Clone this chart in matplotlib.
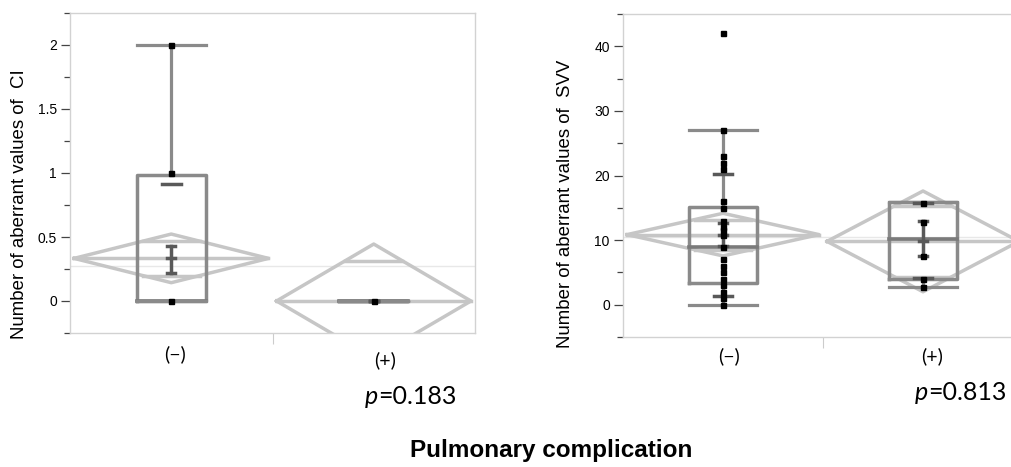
import matplotlib.pyplot as plt
from matplotlib.ticker import MultipleLocator
import numpy as np

W, H = 1011, 467

groups = ['(−)', '(+)']
xpos = [0.5, 1.5]

# CI panel, values
ci_points = [[2, 1, 0], [0]]
ci_mean = [0.333, 0.0]
ci_halfci = [0.19, 0.445]      # half height of means diamond
ci_se_lo = [0.215, 0.0]
ci_se_hi = [0.43, 0.0]
ci_sd = [[0.915], []]
ci_q1 = [0, 0]
ci_med = [0, 0]
ci_q3 = [0.985, 0]
ci_wlo = [0, 0]
ci_whi = [2, 0]
ci_grand = 0.27
ci_p = '0.183'

# SVV panel
svv_points = [[42, 27, 23, 22, 21, 16, 15, 13, 12, 11.5, 10.8, 9, 7, 6, 5, 4, 3, 2, 1, 0],
              [15.8, 12.8, 7.6, 4.0, 2.7]]
svv_mean = [10.85, 9.8]
svv_halfci = [3.3, 7.8]
svv_se_lo = [9.1, 7.5]
svv_se_hi = [12.6, 12.9]
svv_sd = [[20.3, 1.4], [15.7, 4.1]]
svv_q1 = [3.4, 4.0]
svv_med = [9.0, 10.2]
svv_q3 = [15.2, 15.9]
svv_wlo = [0, 2.8]
svv_whi = [27, 15.9]
svv_grand = 10.45
svv_p = '0.813'

DIAM = '#c6c6c6'
BOX = '#8a8a8a'
DARK = '#595959'
FRAME = '#d2d2d2'


def px_axes(fig, x0, y0, x1, y1):
    return fig.add_axes([x0 / W, 1 - y1 / H, (x1 - x0) / W, (y1 - y0) / H])


def oneway(ax, pts, mean, halfci, se_lo, se_hi, sd, q1, med, q3, wlo, whi, grand):
    ax.axhline(grand, color='#e8e8e8', lw=1, zorder=1)
    dw = 0.48
    bw = 0.17
    for i, x in enumerate(xpos):
        m, c = mean[i], halfci[i]
        # means diamond + overlap marks
        ax.plot([x - dw, x, x + dw, x, x - dw], [m, m + c, m, m - c, m], color=DIAM, lw=2.5, zorder=2)
        ax.plot([x - dw, x + dw], [m, m], color=DIAM, lw=2.5, zorder=2)
        o = c / np.sqrt(2)
        ow = dw * (1 - 1 / np.sqrt(2))
        for yy in (m + o, m - o):
            ax.plot([x - ow, x + ow], [yy, yy], color=DIAM, lw=2.5, zorder=2)
        # box plot
        ax.plot([x - bw, x + bw, x + bw, x - bw, x - bw], [q1[i], q1[i], q3[i], q3[i], q1[i]],
                color=BOX, lw=2.5, zorder=3, solid_joinstyle='round')
        ax.plot([x - bw, x + bw], [med[i], med[i]], color='#7a7a7a', lw=2.6, zorder=3)
        ax.plot([x, x], [q3[i], whi[i]], color=BOX, lw=2.3, zorder=3)
        ax.plot([x, x], [q1[i], wlo[i]], color=BOX, lw=2.3, zorder=3)
        for yy in (wlo[i], whi[i]):
            ax.plot([x - bw, x + bw], [yy, yy], color=BOX, lw=2.3, zorder=3)
        # std dev lines
        for yy in sd[i]:
            ax.plot([x - 0.047, x + 0.047], [yy, yy], color=DARK, lw=2.5, zorder=4)
        # mean error bar
        ax.plot([x, x], [se_lo[i], se_hi[i]], color=DARK, lw=2.5, zorder=4)
        for yy in (se_lo[i], se_hi[i], m):
            ax.plot([x - 0.02, x + 0.02], [yy, yy], color=DARK, lw=2.5, zorder=4)
        # points
        ax.plot([x] * len(pts[i]), pts[i], 's', color='black', ms=3.6, zorder=5)

    ax.set_xlim(0, 2)
    ax.set_xticks([1.0])
    ax.tick_params(axis='x', length=8, color='#cccccc', labelbottom=False)
    ax.tick_params(axis='y', which='major', length=6.5, width=0.9, color='#444444',
                   labelsize=10, pad=3)
    ax.tick_params(axis='y', which='minor', length=4.5, width=0.9, color='#444444')
    ax.yaxis.set_major_formatter(plt.FuncFormatter(lambda v, p: '%g' % v))
    for s in ax.spines.values():
        s.set_color(FRAME)
        s.set_linewidth(1)


plt.rcParams['font.family'] = ['Liberation Sans', 'DejaVu Sans']
fig = plt.figure(figsize=(W / 100, H / 100), dpi=100)

ax1 = px_axes(fig, 70, 13, 475, 333)
oneway(ax1, ci_points, ci_mean, ci_halfci, ci_se_lo, ci_se_hi, ci_sd,
       ci_q1, ci_med, ci_q3, ci_wlo, ci_whi, ci_grand)
ax1.set_ylim(-0.25, 2.25)
ax1.yaxis.set_major_locator(MultipleLocator(0.5))
ax1.yaxis.set_minor_locator(MultipleLocator(0.25))

ax2 = px_axes(fig, 623, 14, 1023, 337)
oneway(ax2, svv_points, svv_mean, svv_halfci, svv_se_lo, svv_se_hi, svv_sd,
       svv_q1, svv_med, svv_q3, svv_wlo, svv_whi, svv_grand)
ax2.set_ylim(-5, 45)
ax2.yaxis.set_major_locator(MultipleLocator(10))
ax2.yaxis.set_minor_locator(MultipleLocator(5))


def ftext(x, y, s, ha='center', **kw):
    fig.text(x / W, 1 - y / H, s, ha=ha, va='center', **kw)


ftext(20, 204, 'Number of aberrant values of  CI', rotation=90, fontsize=13.4)
ftext(565, 204, 'Number of aberrant values of  SVV', rotation=90, fontsize=13.4)

lab = dict(fontsize=14, fontfamily='Lato')
ftext(175, 354, groups[0], **lab)
ftext(385, 360, groups[1], **lab)
ftext(729, 356, groups[0], **lab)
ftext(932, 356, groups[1], **lab)

pv = dict(fontsize=18, fontfamily='Lato')
ftext(378, 396, 'p', ha='right', fontstyle='italic', **pv)
ftext(378, 396, '=' + ci_p, ha='left', **pv)
ftext(928, 393, 'p', ha='right', fontstyle='italic', **pv)
ftext(928, 393, '=' + svv_p, ha='left', **pv)

ftext(551, 451, 'Pulmonary complication', fontsize=17.5, fontweight='bold')

fig.savefig('out.png', dpi=100)
